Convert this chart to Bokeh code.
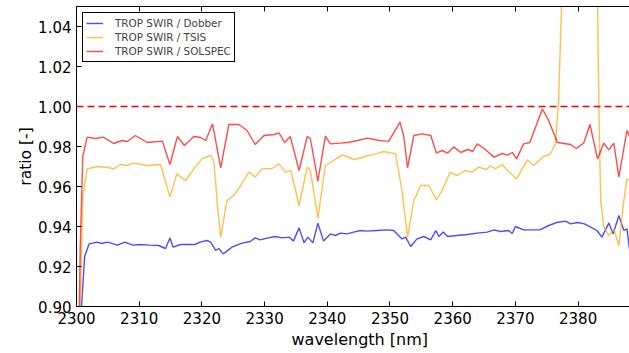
from bokeh.plotting import figure
from bokeh.models import FixedTicker, PrintfTickFormatter, LinearAxis, Span, Legend, LegendItem, Title
from bokeh.embed import file_html
from bokeh.resources import INLINE

# ---- data ----
red_wl = [2300.2, 2300.6, 2301.0, 2301.7, 2303.0, 2304.3, 2305.9, 2307.3, 2308.1, 2309.4,
          2311.3, 2313.7, 2314.9, 2316.1, 2317.2, 2318.7, 2319.8, 2320.6, 2321.7, 2323.0,
          2324.3, 2325.9, 2327.2, 2328.5, 2329.9, 2331.5, 2332.3, 2333.2, 2334.1, 2335.5,
          2336.8, 2337.3, 2338.5, 2339.7, 2340.5, 2342.1, 2343.2, 2344.8, 2346.4, 2347.5,
          2349.0, 2349.8, 2351.6, 2352.2, 2352.8, 2353.8, 2355.1, 2356.5, 2357.4, 2358.3,
          2359.2, 2360.2, 2361.3, 2362.4, 2363.2, 2363.9, 2365.0, 2366.6, 2367.9, 2368.7,
          2369.5, 2370.2, 2371.3, 2372.3, 2374.3, 2375.3, 2376.7, 2378.8, 2379.7, 2380.9,
          2381.9, 2383.1, 2384.1, 2384.9, 2385.7, 2386.5, 2387.8, 2388.3]
red_ratio = [0.85, 0.93, 0.975, 0.9847, 0.984, 0.9847, 0.9815, 0.983, 0.9825, 0.9855,
             0.982, 0.9827, 0.971, 0.985, 0.9805, 0.985, 0.9845, 0.983, 0.9913, 0.9693,
             0.991, 0.991, 0.988, 0.981, 0.9855, 0.986, 0.9868, 0.982, 0.985, 0.968,
             0.985, 0.984, 0.9627, 0.9852, 0.9813, 0.9817, 0.982, 0.983, 0.9842, 0.9835,
             0.9827, 0.9827, 0.9922, 0.985, 0.9693, 0.9855, 0.9863, 0.9855, 0.9767, 0.978,
             0.9767, 0.9797, 0.977, 0.9785, 0.9775, 0.9813, 0.979, 0.9747, 0.9765, 0.9757,
             0.977, 0.9738, 0.9813, 0.982, 0.9988, 0.993, 0.982, 0.981, 0.979, 0.9817,
             0.991, 0.9738, 0.9817, 0.9783, 0.9817, 0.9647, 0.988, 0.984]

tsis_wl = [2300.2, 2300.6, 2301.0, 2301.7, 2303.3, 2305.0, 2305.9, 2307.0, 2308.0, 2309.1,
           2311.3, 2313.4, 2314.9, 2316.0, 2317.4, 2318.7, 2320.0, 2321.4, 2321.9, 2322.5,
           2323.0, 2324.0, 2325.1, 2326.2, 2327.5, 2328.5, 2329.6, 2331.2, 2332.3, 2333.3,
           2334.2, 2335.5, 2336.8, 2337.3, 2338.5, 2339.7, 2341.6, 2342.4, 2343.2, 2344.2,
           2345.6, 2346.4, 2347.8, 2349.0, 2350.9, 2351.9, 2352.8, 2353.8, 2354.9, 2356.2,
           2357.4, 2358.3, 2359.6, 2360.7, 2362.0, 2363.1, 2364.2, 2365.4, 2366.0, 2366.8,
           2367.9, 2368.9, 2370.2, 2371.9, 2372.9, 2374.5, 2375.5, 2376.4, 2376.9, 2377.4,
           2378.5, 2380.5, 2382.5, 2383.1, 2383.3, 2383.6, 2384.1, 2384.9, 2385.7, 2386.5,
           2387.3, 2387.8, 2388.3]
tsis_ratio = [0.80, 0.90, 0.955, 0.9688, 0.970, 0.9695, 0.9688, 0.971, 0.9705, 0.9717,
              0.9705, 0.971, 0.9547, 0.9663, 0.963, 0.9688, 0.9738, 0.9755, 0.973, 0.950,
              0.9347, 0.953, 0.9555, 0.9605, 0.9672, 0.9647, 0.9688, 0.969, 0.9713, 0.9672,
              0.968, 0.9505, 0.9697, 0.968, 0.9443, 0.9705, 0.9742, 0.9758, 0.975, 0.9735,
              0.9745, 0.9755, 0.9763, 0.9775, 0.9763, 0.958, 0.9347, 0.953, 0.9605, 0.9605,
              0.9533, 0.958, 0.9672, 0.9655, 0.968, 0.9673, 0.9697, 0.9685, 0.9705, 0.9688,
              0.971, 0.9675, 0.9638, 0.9733, 0.9705, 0.975, 0.976, 0.9813, 1.003, 1.055,
              1.12, 1.18, 1.10, 1.055, 1.003, 0.953, 0.9397, 0.9355, 0.9388, 0.9305,
              0.953, 0.9638, 0.963]

dob_wl = [2300.3, 2300.8, 2301.3, 2302.0, 2303.3, 2304.0, 2305.0, 2306.5, 2307.7, 2309.0,
          2310.0, 2311.6, 2313.1, 2314.2, 2314.9, 2315.4, 2316.6, 2317.8, 2318.9, 2319.7,
          2320.8, 2321.4, 2322.2, 2322.7, 2323.4, 2324.8, 2326.4, 2327.7, 2328.5, 2329.3,
          2330.4, 2331.7, 2332.8, 2333.9, 2334.6, 2335.5, 2336.3, 2336.9, 2337.7, 2338.5,
          2339.4, 2340.5, 2341.3, 2342.1, 2343.2, 2344.2, 2345.3, 2346.3, 2347.9, 2349.5,
          2350.6, 2351.9, 2352.5, 2353.3, 2354.3, 2355.4, 2356.5, 2357.3, 2357.8, 2358.5,
          2359.2, 2360.7, 2362.3, 2363.9, 2365.5, 2366.6, 2367.6, 2368.9, 2369.5, 2370.0,
          2371.3, 2373.9, 2375.3, 2376.6, 2378.0, 2378.8, 2379.9, 2381.0, 2382.0, 2383.0,
          2383.8, 2384.9, 2385.6, 2386.5, 2387.3, 2387.8, 2388.3]
dob_ratio = [0.80, 0.90, 0.925, 0.9313, 0.9322, 0.9315, 0.9322, 0.9307, 0.9322, 0.9307,
             0.931, 0.9307, 0.9305, 0.929, 0.9343, 0.9297, 0.931, 0.931, 0.931, 0.9322,
             0.933, 0.9322, 0.928, 0.929, 0.9263, 0.9297, 0.9317, 0.9325, 0.9343, 0.9333,
             0.9342, 0.935, 0.9343, 0.9347, 0.9327, 0.9393, 0.9318, 0.9347, 0.9318, 0.9417,
             0.9327, 0.9363, 0.9355, 0.9367, 0.9363, 0.9372, 0.938, 0.9377, 0.938, 0.9383,
             0.938, 0.9338, 0.9347, 0.93, 0.9338, 0.935, 0.9333, 0.938, 0.935, 0.9372,
             0.935, 0.9355, 0.936, 0.9367, 0.9372, 0.9383, 0.9375, 0.938, 0.9365, 0.94,
             0.9383, 0.9383, 0.9405, 0.942, 0.9427, 0.9413, 0.942, 0.9413, 0.9397, 0.938,
             0.9347, 0.9417, 0.9363, 0.9455, 0.938, 0.9388, 0.926]

labels = ["TROP SWIR / Dobber", "TROP SWIR / TSIS", "TROP SWIR / SOLSPEC"]
x_ticks = [2300, 2310, 2320, 2330, 2340, 2350, 2360, 2370, 2380]
y_ticks = [0.90, 0.92, 0.94, 0.96, 0.98, 1.00, 1.02, 1.04]
x_title = "wavelength [nm]"
y_title = "ratio [-]"
ref_level = 1.0

FONT = "DejaVu Sans"
FS = "15px"

p = figure(width=629, height=353, x_range=(2300, 2388.2), y_range=(0.90, 1.05),
           output_backend="svg", toolbar_location=None,
           min_border_left=76, min_border_right=0, min_border_top=6, min_border_bottom=47)
p.outline_line_color = None
p.xgrid.visible = False
p.ygrid.visible = False
p.background_fill_color = "white"
p.border_fill_color = "white"

for ax in (p.xaxis[0], p.yaxis[0]):
    ax.major_tick_in = 5
    ax.major_tick_out = 0
    ax.minor_tick_in = 0
    ax.minor_tick_out = 0
    ax.axis_line_color = "black"
    ax.axis_line_width = 1
    ax.major_tick_line_color = "black"
    ax.major_label_text_font = FONT
    ax.major_label_text_font_size = FS
    ax.major_label_text_color = "black"

p.xaxis[0].ticker = FixedTicker(ticks=x_ticks)
p.yaxis[0].ticker = FixedTicker(ticks=y_ticks)
p.yaxis[0].formatter = PrintfTickFormatter(format="%.2f")
p.xaxis[0].major_label_standoff = 5
p.yaxis[0].major_label_standoff = 5

top = LinearAxis(ticker=FixedTicker(ticks=x_ticks), major_tick_in=5, major_tick_out=0,
                 minor_tick_in=0, minor_tick_out=0, major_label_text_font_size="0px",
                 major_label_standoff=0, axis_line_color="black")
p.add_layout(top, "above")

# axis titles (as titles so they can be nudged to the reference's positions)
xt = Title(text=x_title, align="left", offset=215, standoff=2, text_font=FONT,
           text_font_size="16px", text_font_style="normal", text_color="black")
p.add_layout(xt, "below")
yt = Title(text=y_title, align="center", offset=14, standoff=2, text_font=FONT,
           text_font_size="15.5px", text_font_style="normal", text_color="black")
p.add_layout(yt, "left")

span = Span(location=ref_level, dimension="width", line_color="red", line_dash="7 4", line_width=1.4)
p.add_layout(span)

r1 = p.line(dob_wl, dob_ratio, line_color="blue", line_alpha=0.7, line_width=1.4)
r2 = p.line(tsis_wl, tsis_ratio, line_color="orange", line_alpha=0.7, line_width=1.4)
r3 = p.line(red_wl, red_ratio, line_color="red", line_alpha=0.7, line_width=1.4)

legend = Legend(items=[LegendItem(label=labels[0], renderers=[r1]),
                       LegendItem(label=labels[1], renderers=[r2]),
                       LegendItem(label=labels[2], renderers=[r3])],
                location="top_left", margin=6, padding=3, spacing=0,
                glyph_width=17, glyph_height=14, label_height=14, label_standoff=12,
                label_text_font=FONT, label_text_font_size="10.4px",
                border_line_color="black", border_line_width=1, border_line_alpha=1,
                background_fill_color="white", background_fill_alpha=1)
p.add_layout(legend)

open("out.html", "w").write(file_html(p, INLINE))
